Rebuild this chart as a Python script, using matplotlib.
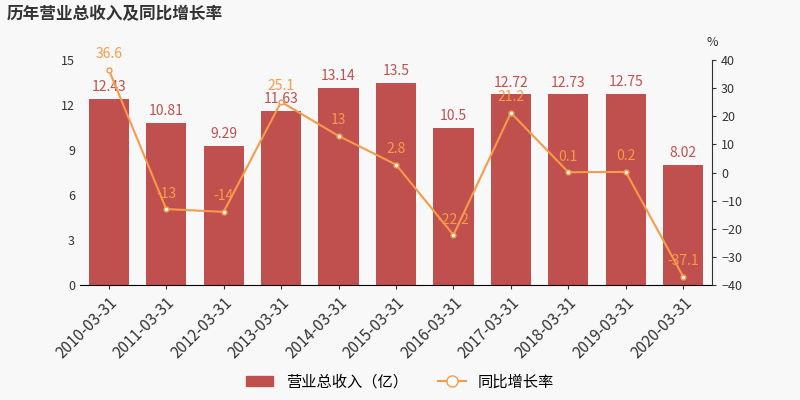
import matplotlib.pyplot as plt
import numpy as np

plt.rcParams['font.family'] = ['Noto Sans CJK SC', 'DejaVu Sans']

dates = ['2010-03-31', '2011-03-31', '2012-03-31', '2013-03-31', '2014-03-31', '2015-03-31',
         '2016-03-31', '2017-03-31', '2018-03-31', '2019-03-31', '2020-03-31']
revenue = [12.43, 10.81, 9.29, 11.63, 13.14, 13.5, 10.5, 12.72, 12.73, 12.75, 8.02]
growth = [36.6, -13, -14, 25.1, 13, 2.8, -22.2, 21.2, 0.1, 0.2, -37.1]

bar_c = '#c0504d'
line_c = '#f79a4a'

fig = plt.figure(figsize=(8, 4), dpi=100, facecolor='#f8f8f8')
ax = fig.add_axes([0.1, 0.2875, 0.79, 0.5625], facecolor='#f8f8f8')
x = np.arange(len(dates))
ax.bar(x, revenue, width=0.7, color=bar_c)
for i, v in enumerate(revenue):
    ax.text(i, v + 0.3, f'{v:g}', ha='center', va='bottom', color=bar_c, fontsize=10)
ax.set_ylim(0, 15)
ax.set_yticks(range(0, 16, 3))
ax.set_xlim(-0.5, len(dates) - 0.5)
ax.set_xticks(x)
ax.set_xticklabels(dates, rotation=45, ha='right', rotation_mode='anchor', fontsize=11, color='#333333')
ax.tick_params(axis='y', labelsize=9, colors='#333333', length=0)
ax.tick_params(axis='x', length=3, color='#333333')
for s in ['top', 'right', 'left']:
    ax.spines[s].set_visible(False)

ax2 = ax.twinx()
ax2.plot(x, growth, color=line_c, marker='o', markersize=3.5, markerfacecolor='white', linewidth=1.5)
for i, v in enumerate(growth):
    ax2.text(i, v + 3, f'{v:g}', ha='center', va='bottom', color=line_c, fontsize=10)
ax2.set_ylim(-40, 40)
ax2.set_yticks(range(-40, 41, 10))
ax2.tick_params(axis='y', labelsize=9, colors='#333333', length=3)
for s in ['top', 'left', 'bottom']:
    ax2.spines[s].set_visible(False)
ax2.spines['right'].set_color('#333333')
ax2.text(1.0, 1.06, '%', transform=ax2.transAxes, ha='center', fontsize=9, color='#333333')

fig.text(0.008, 0.965, '历年营业总收入及同比增长率', fontsize=12, fontweight='bold', color='#333333', va='center')

from matplotlib.patches import Patch
from matplotlib.lines import Line2D
handles = [Patch(color=bar_c), Line2D([], [], color=line_c, marker='o', markerfacecolor='white', markersize=8)]
fig.legend(handles, ['营业总收入（亿）', '同比增长率'], loc='lower center', bbox_to_anchor=(0.5, -0.01),
           ncol=2, frameon=False, fontsize=11, handlelength=1.8)

fig.savefig('out.png', facecolor=fig.get_facecolor())
